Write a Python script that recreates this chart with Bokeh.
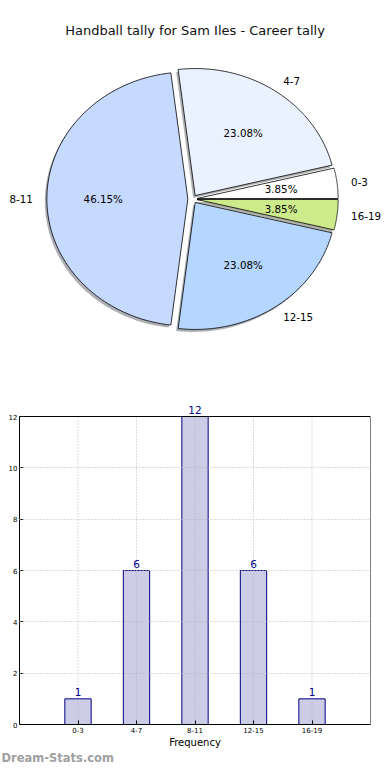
import numpy as np
from bokeh.plotting import figure
from bokeh.models import Range1d, ColumnDataSource, FixedTicker
from bokeh.layouts import column
from bokeh.embed import file_html
from bokeh.resources import INLINE
from bokeh.core.properties import value

# ---- data ----
title = "Handball tally for Sam Iles - Career tally"
categories = ["0-3", "4-7", "8-11", "12-15", "16-19"]
counts = [1, 6, 12, 6, 1]
pie_colors = ["#ffffff", "#ebf2ff", "#c6d9ff", "#b5d6ff", "#cdeb8b"]
y_ticks = [0, 2, 4, 6, 8, 10, 12]
x_label = "Frequency"
watermark = "Dream-Stats.com"

FONT = "DejaVu Sans"
W = 382
PIE_H = 378
BAR_H = 372
WM_H = 14

# ---- pie (elliptical, exploded, with shadows) ----
RX_PX, RY_PX = 141.0, 127.0
CX_PX, CY_PX = 192.0, 198.5
explode = 0.033

pie = figure(width=W, height=PIE_H, output_backend="svg", toolbar_location=None,
             x_range=Range1d(-CX_PX / RX_PX, (W - CX_PX) / RX_PX),
             y_range=Range1d(-(PIE_H - CY_PX) / RY_PX, CY_PX / RY_PX),
             x_axis_location=None, y_axis_location=None, min_border=0,
             outline_line_color=None, background_fill_color="white")
pie.frame_align = False
pie.grid.visible = False

vals = np.array(counts, dtype=float)
total = vals.sum()
bounds = np.concatenate([[0.0], np.cumsum(vals) / total * 2 * np.pi])

sx, sy, wx, wy, scol = [], [], [], [], []
lab_x, lab_y, lab_t, lab_align = [], [], [], []
pct_x, pct_y, pct_t = [], [], []
sdx, sdy = -2.0 / RX_PX, -2.5 / RY_PX
for i in range(len(vals)):
    t0, t1 = bounds[i], bounds[i + 1]
    mid = 0.5 * (t0 + t1)
    ox, oy = explode * np.cos(mid), explode * np.sin(mid)
    a = np.linspace(t0, t1, 120)
    xs = [ox] + list(ox + np.cos(a)) + [ox]
    ys = [oy] + list(oy + np.sin(a)) + [oy]
    wx.append(xs)
    wy.append(ys)
    sx.append([x + sdx for x in xs])
    sy.append([y + sdy for y in ys])
    h = pie_colors[i].lstrip("#")
    rgb = [int(h[k:k + 2], 16) for k in (0, 2, 4)]
    scol.append("#%02x%02x%02x" % tuple(int(0.3 * c) for c in rgb))
    lab_x.append(ox + 1.1 * np.cos(mid))
    lab_y.append(oy + 1.1 * np.sin(mid))
    lab_t.append(categories[i])
    lab_align.append("right" if np.cos(mid) < 0 else "left")
    pct_x.append(ox + 0.6 * np.cos(mid))
    pct_y.append(oy + 0.6 * np.sin(mid))
    pct_t.append("%.2f%%" % (vals[i] / total * 100))

pie.patches(sx, sy, fill_color=scol, fill_alpha=0.42, line_color=None)
pie.patches(wx, wy, fill_color=pie_colors, line_color="black", line_width=0.8)

lab_src = ColumnDataSource(dict(x=lab_x, y=lab_y, t=lab_t, al=lab_align))
pie.text("x", "y", text="t", source=lab_src, text_align="al", text_baseline="middle",
         text_font=value(FONT), text_font_size="10.3px", text_color="black")
pct_src = ColumnDataSource(dict(x=pct_x, y=pct_y, t=pct_t))
pie.text("x", "y", text="t", source=pct_src, text_align="center", text_baseline="middle",
         text_font=value(FONT), text_font_size="10.3px", text_color="black")

pie.text(x=[(194.5 - CX_PX) / RX_PX], y=[(CY_PX - 30) / RY_PX], text=[title],
         text_align="center", text_baseline="middle", text_font=value(FONT),
         text_font_size="13px", text_color="#111111")

# ---- bar chart ----
FRAME_TOP, TOP12, FRAME_BOT = 14, 38, 346   # px inside bar figure
ymax = max(y_ticks) * (FRAME_BOT - FRAME_TOP) / (FRAME_BOT - TOP12)
xpos = list(range(1, len(categories) + 1))
x_end = len(categories) + 1

bar = figure(width=W, height=BAR_H, output_backend="svg", toolbar_location=None,
             x_range=Range1d(0, x_end), y_range=Range1d(0, ymax),
             min_border_left=19, min_border_right=12, min_border_top=FRAME_TOP,
             min_border_bottom=BAR_H - FRAME_BOT, background_fill_color="white",
             outline_line_color=None)
bar.frame_align = False
src = ColumnDataSource(dict(x=xpos, n=counts, t=[str(c) for c in counts]))
bar.vbar(x="x", top="n", width=0.45, source=src, fill_color="navy", fill_alpha=0.2,
         line_color="navy", line_width=1)

# dotted grid on top of bars (inner rows only; borders drawn solid)
bar.xgrid.visible = False
bar.ygrid.ticker = FixedTicker(ticks=y_ticks[1:-1])
bar.ygrid.grid_line_color = "#b8b8b8"
bar.ygrid.grid_line_dash = "1 2"
bar.ygrid.level = "overlay"
bar.segment(x0=xpos, y0=[0] * len(xpos), x1=xpos, y1=[max(y_ticks)] * len(xpos),
            line_color="#b8b8b8", line_dash="1 2", line_width=1)

# frame border (top and right) at the top of the scale
bar.segment(x0=[0, x_end], y0=[max(y_ticks), 0], x1=[x_end, x_end],
            y1=[max(y_ticks), max(y_ticks)], line_color="black", line_width=1)

bar.text("x", "n", text="t", source=src, text_align="center", text_baseline="bottom",
         y_offset=-3, text_font=value(FONT), text_font_size="10.5px", text_color="navy")

bar.yaxis.ticker = FixedTicker(ticks=y_ticks)
bar.yaxis.bounds = (0, max(y_ticks))
bar.xaxis.ticker = FixedTicker(ticks=xpos)
bar.xaxis.major_label_overrides = {p: c for p, c in zip(xpos, categories)}
for ax in (bar.xaxis, bar.yaxis):
    ax.major_label_text_font = FONT
    ax.major_label_text_font_size = "7px"
    ax.major_label_text_color = "black"
    ax.major_tick_in = 4
    ax.major_tick_out = 0
    ax.minor_tick_in = 0
    ax.minor_tick_out = 0
    ax.axis_line_color = "black"
    ax.major_tick_line_color = "black"
bar.xaxis.major_label_standoff = 2
bar.yaxis.major_label_standoff = 2
bar.xaxis.axis_label = x_label
bar.xaxis.axis_label_text_font = FONT
bar.xaxis.axis_label_text_font_size = "10px"
bar.xaxis.axis_label_text_font_style = "normal"
bar.xaxis.axis_label_text_color = "black"
bar.xaxis.axis_label_standoff = 1

# ---- watermark strip ----
wm = figure(width=W, height=WM_H, output_backend="svg", toolbar_location=None,
            x_range=Range1d(0, W), y_range=Range1d(0, WM_H),
            x_axis_location=None, y_axis_location=None, min_border=0,
            outline_line_color=None, background_fill_color="white")
wm.frame_align = False
wm.grid.visible = False
wm.text(x=[1], y=[WM_H / 2], text=[watermark], text_align="left", text_baseline="middle",
        text_font=value(FONT), text_font_size="11.5px", text_font_style="bold",
        text_color="#a0a0a0")

layout = column(pie, bar, wm, spacing=0)
open("out.html", "w").write(file_html(layout, INLINE))
